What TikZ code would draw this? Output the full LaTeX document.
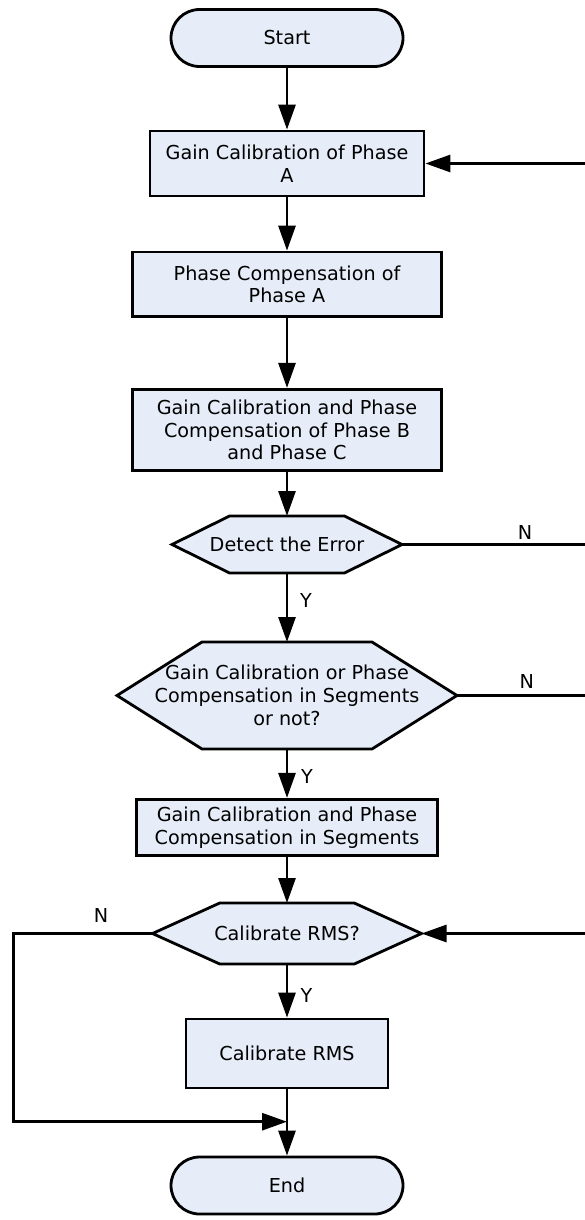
\documentclass[tikz,border=0pt]{standalone}
\usepackage{fontspec}
\setmainfont{DejaVu Sans}
\usetikzlibrary{arrows.meta,calc,backgrounds}
\definecolor{boxfill}{RGB}{230,237,248}
\tikzset{
  base/.style={font=\fontsize{19.2}{22.8}\selectfont, align=center, inner sep=0pt},
  procbox/.style={base, draw, line width=2.8pt, fill=boxfill, rectangle},
  termbox/.style={procbox, rounded corners=28.5pt},
  hexbox/.style={base, rectangle, draw=none, outer sep=0pt},
  hexshape/.style={draw, line width=2.8pt, fill=boxfill, line join=miter},
  conn/.style={line width=2.8pt},
  arr/.style={conn, -{Triangle[length=25pt,width=17pt]}},
  lbl/.style={font=\fontsize{19.2}{22.8}\selectfont, inner sep=0pt}
}
\begin{document}
\begin{tikzpicture}[x=1pt,y=-1pt]
\useasboundingbox (0,0) rectangle (585,1220);
\clip (0,0) rectangle (585,1220);

\node[termbox, minimum width=232pt, minimum height=57pt] (start) at (287,38) {Start};
\node[procbox, minimum width=274pt, minimum height=65pt] (gA) at (287,163.5) {Gain Calibration of Phase\\A};
\node[procbox, minimum width=309pt, minimum height=64.5pt] (pA) at (287,284.3) {Phase Compensation of\\Phase A};
\node[procbox, minimum width=309pt, minimum height=81.4pt] (gBC) at (287,430) {Gain Calibration and Phase\\Compensation of Phase B\\and Phase C};
\node[hexbox, minimum width=230pt, minimum height=57pt] (det) at (287,544.5) {Detect the Error};
\node[hexbox, minimum width=340pt, minimum height=107pt] (seg) at (287,695.5) {Gain Calibration or Phase\\Compensation in Segments\\or not?};
\node[procbox, minimum width=301pt, minimum height=56pt] (gSeg) at (287,827.3) {Gain Calibration and Phase\\Compensation in Segments};
\node[hexbox, minimum width=269pt, minimum height=61pt] (rmsq) at (287,933.5) {Calibrate RMS?};
\node[procbox, minimum width=202pt, minimum height=69pt] (rms) at (287,1053.5) {Calibrate RMS};
\node[termbox, minimum width=232pt, minimum height=57pt] (end) at (287,1185.5) {End};

\begin{scope}[on background layer]
\foreach \n in {det,seg,rmsq}{
  \draw[hexshape] (\n.west) -- ($(\n.north west)!0.25!(\n.north east)$) -- ($(\n.north west)!0.75!(\n.north east)$) -- (\n.east) -- ($(\n.south west)!0.75!(\n.south east)$) -- ($(\n.south west)!0.25!(\n.south east)$) -- cycle;
}
\end{scope}

\coordinate (r1) at (592,544.5);
\coordinate (r2) at (592,695.5);
\coordinate (lft) at (13.3,1121.7);
\coordinate (m) at (287,1121.7);

\draw[arr] (start.south) -- (gA.north);
\draw[arr] (gA.south) -- (pA.north);
\draw[arr] (pA.south) -- (gBC.north);
\draw[arr] (gBC.south) -- (det.north);
\draw[arr] (det.south) -- (seg.north);
\draw[arr] (seg.south) -- (gSeg.north);
\draw[arr] (gSeg.south) -- (rmsq.north);
\draw[arr] (rmsq.south) -- (rms.north);
\draw[arr] (rms.south) -- (end.north);
\draw[arr] (det.east) -- (r1) |- (gA.east);
\draw[arr] (seg.east) -- (r2) |- (rmsq.east);
\draw[arr] (rmsq.west) -| (lft) -- (m);

\node[lbl] (yl1) at (306,600) {Y};
\node[lbl] (yl2) at (307,776.7) {Y};
\node[lbl] (yl3) at (306.5,995) {Y};
\node[lbl] (nl1) at (525,532) {N};
\node[lbl] (nl2) at (526.7,681.7) {N};
\node[lbl] (nl3) at (101,915) {N};
\end{tikzpicture}
\end{document}
